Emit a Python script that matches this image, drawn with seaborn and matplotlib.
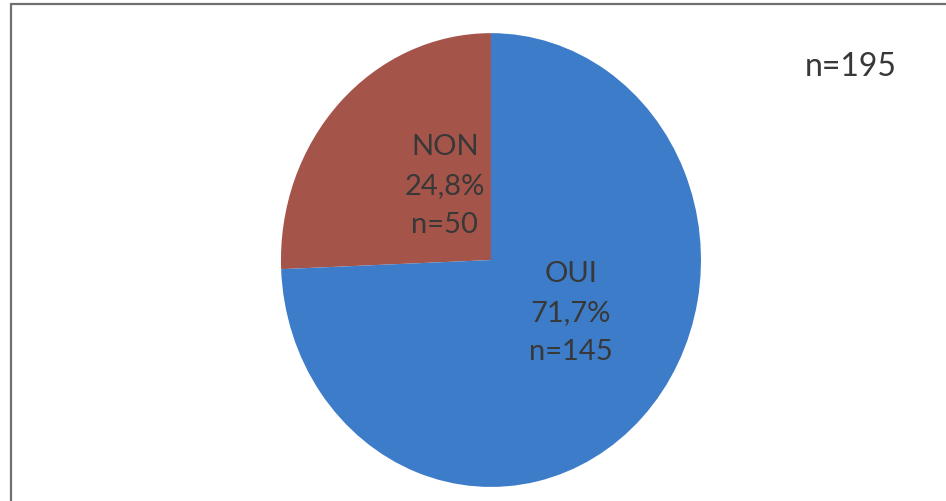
import matplotlib
matplotlib.use("Agg")
import matplotlib.pyplot as plt
import seaborn as sns
from matplotlib.lines import Line2D

# data
labels = ["NON", "OUI"]
counts = [50, 145]
pct_text = ["24,8%", "71,7%"]
total = 195

sns.set_theme(style="white")
plt.rcParams["font.family"] = ["Lato", "DejaVu Sans"]

colors = ["#A5544A", "#3D7CC9"]
text_color = "#383838"

fig = plt.figure(figsize=(9.46, 5.02), dpi=100)
fig.patch.set_facecolor("white")

# pie is slightly taller than wide in the scan
ax = fig.add_axes([0.297, 0.028, 0.444, 0.904])
ax.pie(counts, colors=colors, startangle=90, counterclock=True,
       wedgeprops=dict(linewidth=0))
ax.set_aspect("auto")
ax.set_xlim(-1, 1)
ax.set_ylim(-1, 1)
ax.axis("off")

# slice labels (positions in axes fraction)
label_pos = [(0.39, 0.665), (0.69, 0.385)]
for lab, p, c, (x, y) in zip(labels, pct_text, counts, label_pos):
    ax.text(x, y, f"{lab}\n{p}\nn={c}", transform=ax.transAxes,
            ha="center", va="center", fontsize=21, color=text_color,
            linespacing=1.62)

fig.text(0.899, 0.866, f"n={total}", ha="center", va="center",
         fontsize=23, color=text_color)

# frame lines (left and top only, as in the scan)
fig.add_artist(Line2D([11 / 946, 11 / 946], [0, 1 - 5 / 502],
                      transform=fig.transFigure, color="#707070", lw=1.6))
fig.add_artist(Line2D([11 / 946, 1], [1 - 5 / 502, 1 - 5 / 502],
                      transform=fig.transFigure, color="#707070", lw=1.6))

fig.savefig("out.png", dpi=100)
